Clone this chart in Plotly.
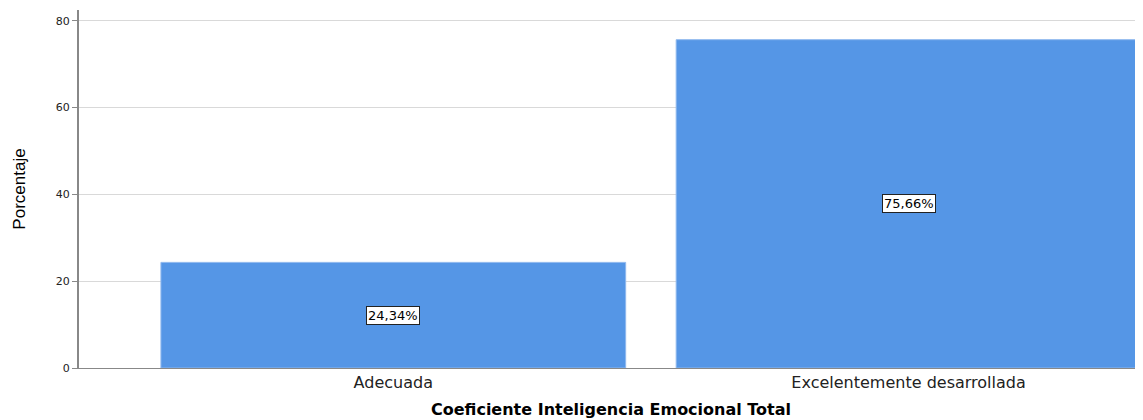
import plotly.graph_objects as go

categorias = ["Adecuada", "Excelentemente desarrollada"]
porcentajes = [24.34, 75.66]
etiquetas = ["24,34%", "75,66%"]
ticks_y = [0, 20, 40, 60, 80]

fig = go.Figure(go.Bar(
    x=categorias,
    y=porcentajes,
    width=0.902,
    marker=dict(color="#5596e6", line=dict(color="#8fb8ee", width=1)),
    hoverinfo="skip",
))

# etiquetas de porcentaje en el centro de cada barra
for c, v, t in zip(categorias, porcentajes, etiquetas):
    fig.add_annotation(
        x=c, y=v / 2, text=t, showarrow=False,
        font=dict(family="DejaVu Sans", size=13, color="black"),
        bgcolor="white", bordercolor="#222", borderwidth=1, borderpad=1,
    )

fig.update_layout(
    width=1143, height=420,
    margin=dict(l=71, r=8, t=2, b=60),
    plot_bgcolor="white", paper_bgcolor="white",
    showlegend=False,
    font=dict(family="DejaVu Sans", color="black"),
    xaxis=dict(
        range=[-0.61, 1.455],
        showline=True, linecolor="#888", linewidth=1,
        ticks="", tickfont=dict(size=16, color="#222"),
        title=dict(text="<b>Coeficiente Inteligencia Emocional Total</b>",
                   font=dict(size=16, color="black"), standoff=12),
    ),
    yaxis=dict(
        range=[0, 82.5],
        tickvals=ticks_y,
        showgrid=True, gridcolor="#d9d9d9", gridwidth=1,
        showline=True, linecolor="#888", linewidth=2,
        ticks="outside", ticklen=5, tickcolor="#888",
        tickfont=dict(size=11, color="#222"),
        zeroline=False,
        title=dict(text="Porcentaje",
                   font=dict(family="Liberation Sans Narrow, Arial Narrow, Liberation Sans", size=17, color="black"),
                   standoff=26),
    ),
)

fig.write_html("out.html")
